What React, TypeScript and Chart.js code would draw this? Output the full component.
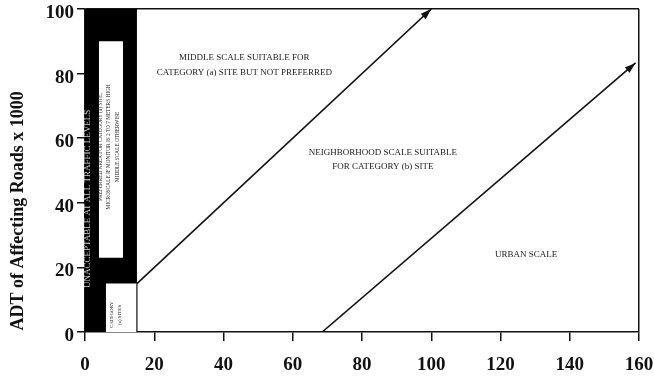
import React, { useEffect, useRef } from 'react';
import { Chart, registerables } from 'chart.js';

Chart.register(...registerables);

// ---- data (axis units: x = distance, y = ADT x 1000) ----
const xTickValues = [0, 20, 40, 60, 80, 100, 120, 140, 160];
const yTickValues = [0, 20, 40, 60, 80, 100];

// black "unacceptable" band, filled down to y = 0
const unacceptableBand = [
  { x: 0, y: 100 },
  { x: 15, y: 100 },
];
// white "preferred area" window, filled down to preferredBase
const preferredArea = [
  { x: 4, y: 90 },
  { x: 11, y: 90 },
];
const preferredBase = 23;
// white "category (a) sites" box, filled down to y = 0
const categoryABox = [
  { x: 6, y: 15 },
  { x: 15, y: 15 },
];
const categoryABoxEdge = [
  { x: 15, y: 0 },
  { x: 15, y: 15 },
];
// boundary arrows
const middleScaleBoundary = [
  { x: 15, y: 15 },
  { x: 100, y: 100 },
];
const urbanScaleBoundary = [
  { x: 68.5, y: 0 },
  { x: 159, y: 83.3 },
];

const yAxisTitle = 'ADT of Affecting Roads x 1000';
const middleScaleText = ['MIDDLE SCALE SUITABLE FOR', 'CATEGORY (a) SITE BUT NOT PREFERRED'];
const neighborhoodText = ['NEIGHBORHOOD SCALE SUITABLE', 'FOR CATEGORY (b) SITE'];
const urbanText = ['URBAN SCALE'];
const unacceptableText = ['UNACCEPTABLE AT ALL TRAFFIC LEVELS'];
const preferredText = [
  'PREFERRED AREA FOR CATEGORY (a) SITE,',
  'MICROSCALE IF MONITOR IS 2 TO 7 METERS HIGH',
  'MIDDLE SCALE OTHERWISE',
];
const categoryAText = ['CATEGORY', '(a) SITES'];

const SERIF = "'Liberation Serif', 'Times New Roman', serif";

// annotation layout (anchored in data units)
const notes = [
  { lines: middleScaleText, x: 46, y: 82.5, size: 9, lh: 15, color: '#1a1a1a', rot: false },
  { lines: neighborhoodText, x: 86, y: 53.3, size: 9, lh: 14, color: '#1a1a1a', rot: false },
  { lines: urbanText, x: 127.4, y: 23.8, size: 9, lh: 12, color: '#1a1a1a', rot: false },
  { lines: unacceptableText, x: 0.9, y: 41.2, size: 9, lh: 10, color: '#d0d0d0', rot: true },
  { lines: preferredText, x: 6.9, y: 57.3, size: 5.3, lh: 8.6, color: '#1a1a1a', rot: true },
  { lines: categoryAText, x: 8.8, y: 5.3, size: 5, lh: 8, color: '#1a1a1a', rot: true },
];

const arrowPlugin = {
  id: 'arrowHeads',
  afterDatasetsDraw(chart: any) {
    const ctx = chart.ctx;
    chart.data.datasets.forEach((ds: any, i: number) => {
      if (!ds.arrowHead) return;
      const pts = chart.getDatasetMeta(i).data;
      if (pts.length < 2) return;
      const a = pts[pts.length - 2];
      const b = pts[pts.length - 1];
      const ang = Math.atan2(b.y - a.y, b.x - a.x);
      const len = 11;
      const half = 3.6;
      ctx.save();
      ctx.fillStyle = '#111';
      ctx.beginPath();
      ctx.moveTo(b.x, b.y);
      ctx.lineTo(
        b.x - len * Math.cos(ang) + half * Math.sin(ang),
        b.y - len * Math.sin(ang) - half * Math.cos(ang)
      );
      ctx.lineTo(
        b.x - len * Math.cos(ang) - half * Math.sin(ang),
        b.y - len * Math.sin(ang) + half * Math.cos(ang)
      );
      ctx.closePath();
      ctx.fill();
      ctx.restore();
    });
  },
};

const notesPlugin = {
  id: 'notes',
  afterDatasetsDraw(chart: any) {
    const ctx = chart.ctx;
    const xs = chart.scales.x;
    const ys = chart.scales.y;
    notes.forEach((n) => {
      const px = xs.getPixelForValue(n.x);
      const py = ys.getPixelForValue(n.y);
      ctx.save();
      ctx.translate(px, py);
      if (n.rot) ctx.rotate(-Math.PI / 2);
      ctx.font = `${n.size}px ${SERIF}`;
      ctx.fillStyle = n.color;
      ctx.textAlign = 'center';
      ctx.textBaseline = 'middle';
      const total = (n.lines.length - 1) * n.lh;
      n.lines.forEach((line, k) => {
        ctx.fillText(line, 0, -total / 2 + k * n.lh);
      });
      ctx.restore();
    });
    // y axis title
    ctx.save();
    ctx.translate(18, ys.getPixelForValue(37.5));
    ctx.rotate(-Math.PI / 2);
    ctx.font = `bold 18px ${SERIF}`;
    ctx.fillStyle = '#111';
    ctx.textAlign = 'center';
    ctx.textBaseline = 'middle';
    ctx.fillText(yAxisTitle, 0, 0);
    ctx.restore();
  },
};

export default function App() {
  const ref = useRef<HTMLCanvasElement | null>(null);

  useEffect(() => {
    if (!ref.current) return;
    const base = { pointRadius: 0, pointHoverRadius: 0, tension: 0 };
    const chart = new Chart(ref.current, {
      type: 'line',
      data: {
        datasets: [
          {
            ...base,
            data: unacceptableBand,
            borderWidth: 0,
            borderColor: 'rgba(0,0,0,0)',
            backgroundColor: '#000',
            fill: 'origin',
            order: 6,
          },
          {
            ...base,
            data: preferredArea,
            borderWidth: 0,
            borderColor: 'rgba(0,0,0,0)',
            backgroundColor: '#fff',
            fill: { value: preferredBase },
            order: 5,
          },
          {
            ...base,
            data: categoryABox,
            borderWidth: 0,
            borderColor: 'rgba(0,0,0,0)',
            backgroundColor: '#fff',
            fill: 'origin',
            order: 5,
          },
          {
            ...base,
            data: categoryABoxEdge,
            borderWidth: 1.2,
            borderColor: '#111',
            fill: false,
            order: 3,
          },
          {
            ...base,
            data: middleScaleBoundary,
            borderWidth: 1.6,
            borderColor: '#111',
            fill: false,
            order: 1,
            arrowHead: true,
          } as any,
          {
            ...base,
            data: urbanScaleBoundary,
            borderWidth: 1.6,
            borderColor: '#111',
            fill: false,
            order: 1,
            arrowHead: true,
          } as any,
        ],
      },
      options: {
        animation: false,
        responsive: false,
        events: [],
        layout: { padding: { left: 0, top: 9, right: 15, bottom: 0 } },
        plugins: {
          legend: { display: false },
          tooltip: { enabled: false },
          title: { display: false },
        },
        scales: {
          x: {
            type: 'linear',
            min: 0,
            max: 160,
            afterBuildTicks: (s: any) => {
              s.ticks = xTickValues.map((v) => ({ value: v }));
            },
            afterFit: (s: any) => {
              s.height = 47;
              s.paddingLeft = 0;
              s.paddingRight = 0;
            },
            border: { display: true, color: '#111', width: 1.5 },
            grid: {
              drawOnChartArea: true,
              color: (c: any) => (c.tick && c.tick.value === 160 ? '#111' : 'rgba(0,0,0,0)'),
              lineWidth: 1.5,
              tickColor: '#111',
              tickLength: 9,
              tickWidth: 1.5,
            },
            ticks: {
              color: '#111',
              padding: 13,
              maxRotation: 0,
              autoSkip: false,
              font: { family: SERIF, size: 19, weight: 'bold' },
            },
          },
          y: {
            type: 'linear',
            min: 0,
            max: 100,
            afterBuildTicks: (s: any) => {
              s.ticks = yTickValues.map((v) => ({ value: v }));
            },
            afterFit: (s: any) => {
              s.width = 85;
              s.paddingTop = 0;
              s.paddingBottom = 0;
            },
            border: { display: true, color: '#111', width: 1.5 },
            grid: {
              drawOnChartArea: true,
              color: (c: any) => (c.tick && c.tick.value === 100 ? '#111' : 'rgba(0,0,0,0)'),
              lineWidth: 1.5,
              tickColor: '#111',
              tickLength: 8,
              tickWidth: 1.5,
            },
            ticks: {
              color: '#111',
              padding: 3,
              labelOffset: 4,
              autoSkip: false,
              font: { family: SERIF, size: 19, weight: 'bold', lineHeight: 0.9 },
            },
          },
        },
      } as any,
      plugins: [arrowPlugin, notesPlugin],
    });
    return () => chart.destroy();
  }, []);

  return (
    <div style={{ position: 'absolute', left: 0, top: 0, width: 654, height: 379, background: '#fff' }}>
      <canvas ref={ref} width={654} height={379} style={{ display: 'block', width: 654, height: 379 }} />
    </div>
  );
}
